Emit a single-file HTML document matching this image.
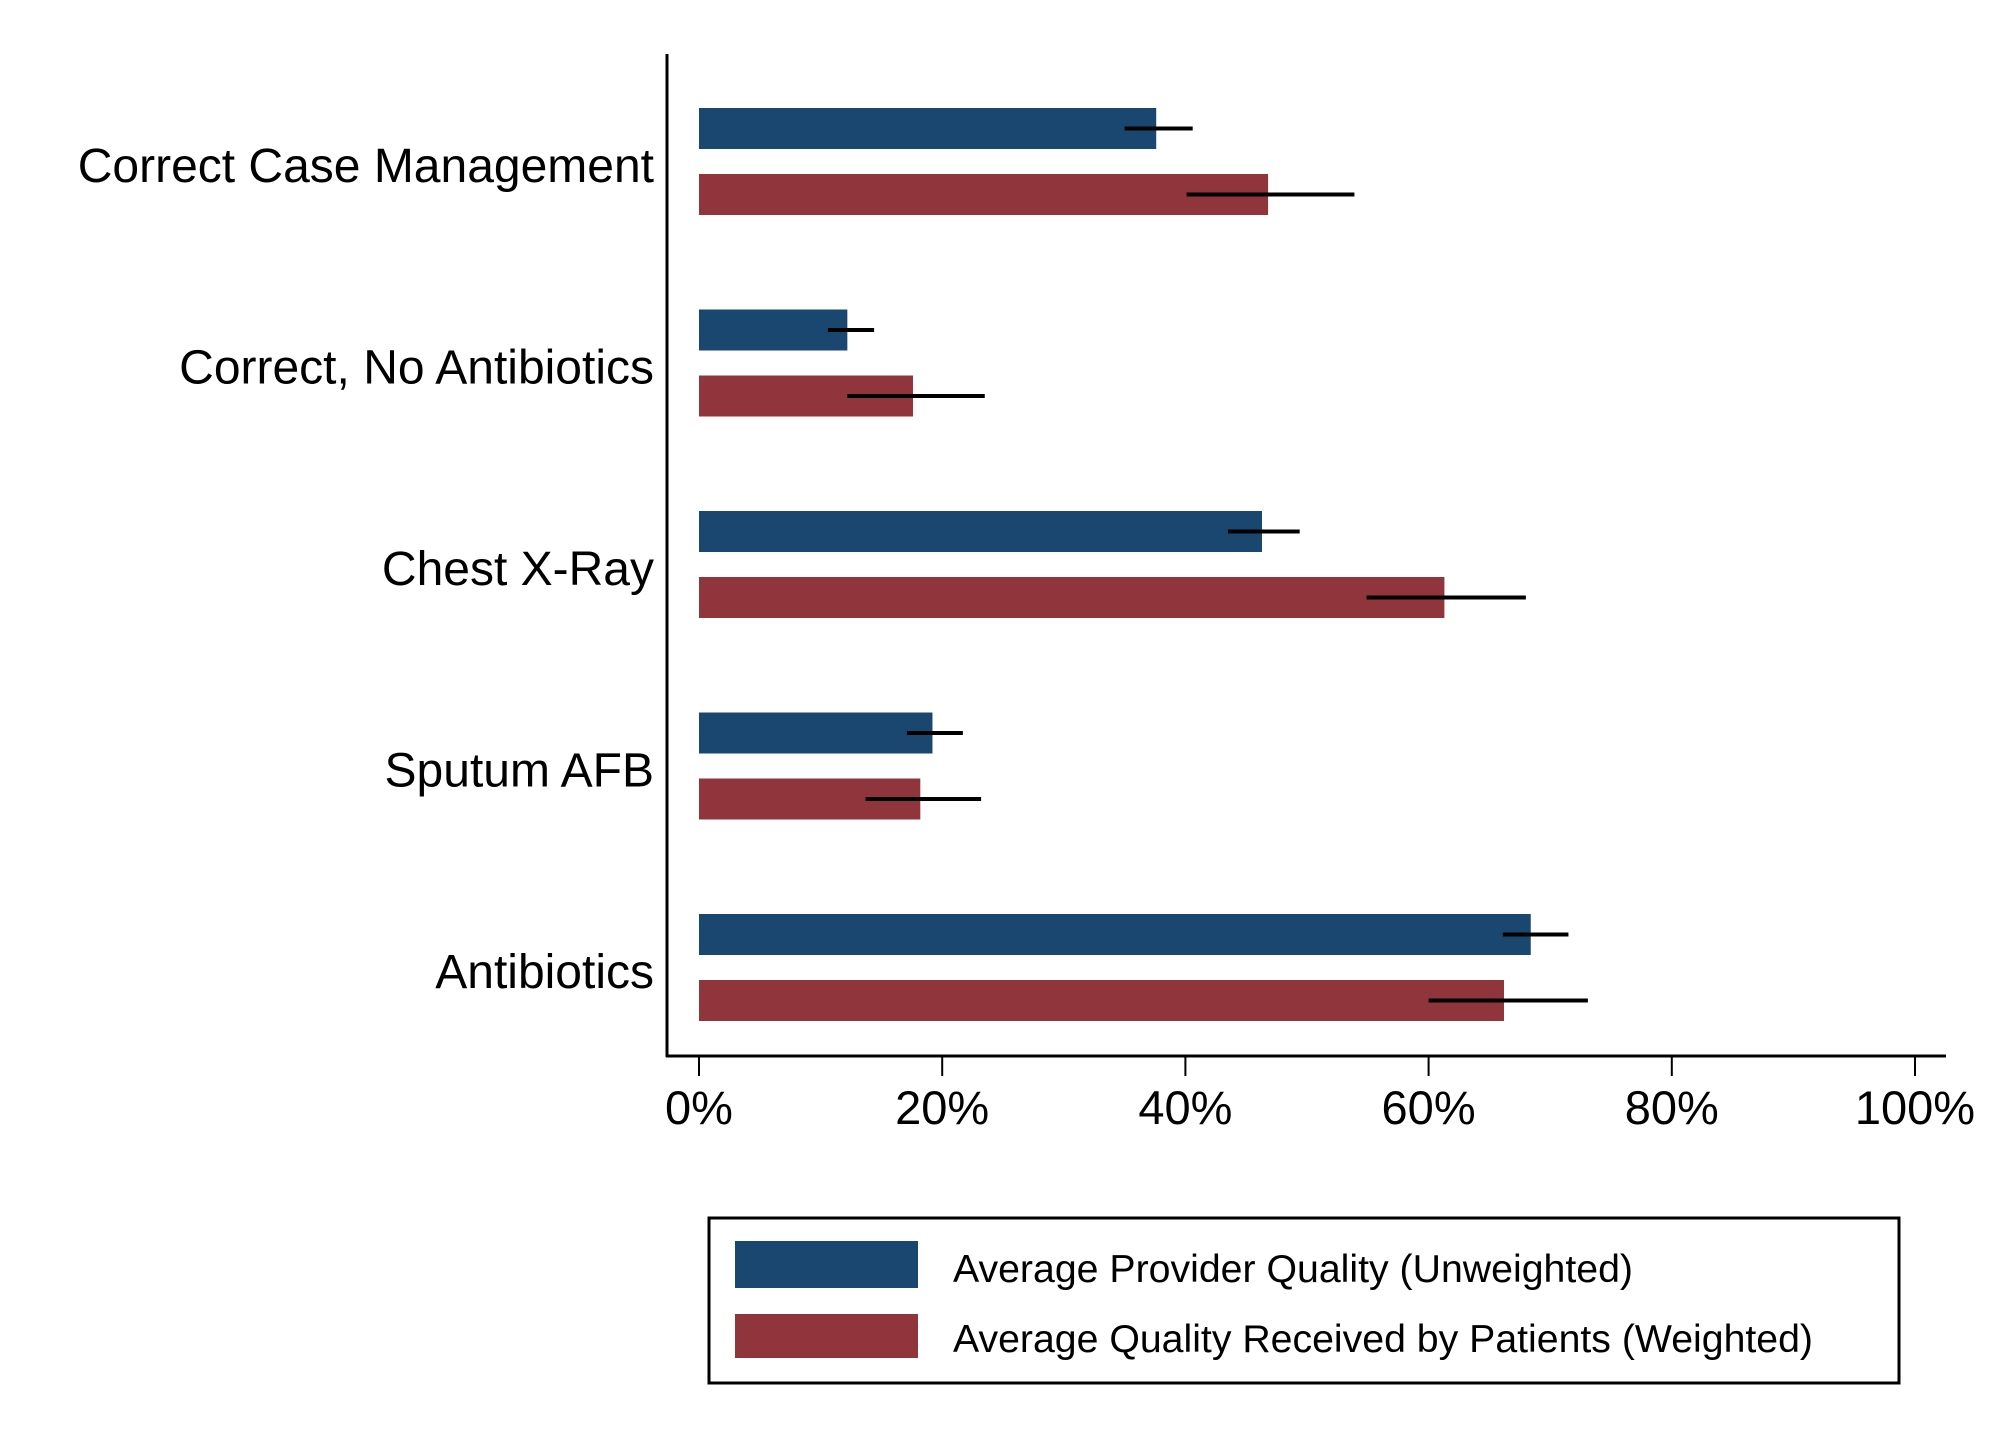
<!DOCTYPE html>
<html><head><meta charset="utf-8"><style>
html,body{margin:0;padding:0;background:#fff;}
svg{display:block;font-family:"Liberation Sans",Arial,sans-serif;}
</style></head><body>
<svg id="chart" width="2000" height="1454" viewBox="0 0 2000 1454" xmlns="http://www.w3.org/2000/svg">
<rect x="0" y="0" width="2000" height="1454" fill="#fff"/>
<g id="plot"></g>
<g id="legend">
  <rect x="709" y="1218" width="1190" height="165" fill="#fff" stroke="#000" stroke-width="3"/>
  <rect x="735" y="1241" width="183" height="47" fill="#1a476f"/>
  <text x="953" y="1282" font-size="39" textLength="680" lengthAdjust="spacingAndGlyphs">Average Provider Quality (Unweighted)</text>
  <rect x="735" y="1314" width="183" height="44" fill="#90353b"/>
  <text x="953" y="1352" font-size="39" textLength="860" lengthAdjust="spacingAndGlyphs">Average Quality Received by Patients (Weighted)</text>
</g>
</svg>
<script>
const categories = ["Correct Case Management","Correct, No Antibiotics","Chest X-Ray","Sputum AFB","Antibiotics"];
const unweighted = [37.6, 12.2, 46.3, 19.2, 68.4];
const unweightedLo = [35.0, 10.6, 43.5, 17.1, 66.1];
const unweightedHi = [40.6, 14.4, 49.4, 21.7, 71.5];
const weighted = [46.8, 17.6, 61.3, 18.2, 66.2];
const weightedLo = [40.1, 12.2, 54.9, 13.7, 60.0];
const weightedHi = [53.9, 23.5, 68.0, 23.2, 73.1];
const ticks = [0, 20, 40, 60, 80, 100];
const tickLabels = ["0%","20%","40%","60%","80%","100%"];

const NS = "http://www.w3.org/2000/svg";
const plot = document.getElementById('plot');
const x = v => 699 + v * 12.16;
const groupTop = i => 108 + i * 201.5;
function mk(tag, attrs){ const e = document.createElementNS(NS, tag); for (const k in attrs) e.setAttribute(k, attrs[k]); plot.appendChild(e); return e; }

let e = mk('line', {x1:667, y1:54, x2:667, y2:1057, stroke:'#000', 'stroke-width':3});


e = mk('line', {x1:666, y1:1056, x2:1946, y2:1056, stroke:'#000', 'stroke-width':3});



ticks.forEach((t, i) => {
  let tk = mk('line', {x1:x(t), y1:1056, x2:x(t), y2:1076, stroke:'#000', 'stroke-width':2});
  
  
  let tl = mk('text', {x:x(t), y:1124, 'font-size':47, 'text-anchor':'middle'});
  tl.textContent = tickLabels[i];
  
  
});

categories.forEach((c, i) => {
  const bt = groupTop(i), rt = bt + 66, h = 41;
  let lab = mk('text', {x:654, y:bt + 74, 'font-size':48, 'text-anchor':'end'});
  lab.textContent = c;
  
  

  let b = mk('rect', {x:x(0), y:bt, width:x(unweighted[i]) - x(0), height:h, fill:'#1a476f'});
  
  
  let r = mk('rect', {x:x(0), y:rt, width:x(weighted[i]) - x(0), height:h, fill:'#90353b'});
  
  

  let eb = mk('line', {x1:x(unweightedLo[i]), y1:bt + h/2, x2:x(unweightedHi[i]), y2:bt + h/2, stroke:'#000', 'stroke-width':4});
  
  
  let er = mk('line', {x1:x(weightedLo[i]), y1:rt + h/2, x2:x(weightedHi[i]), y2:rt + h/2, stroke:'#000', 'stroke-width':4});
  
  
});
</script>
</body></html>
